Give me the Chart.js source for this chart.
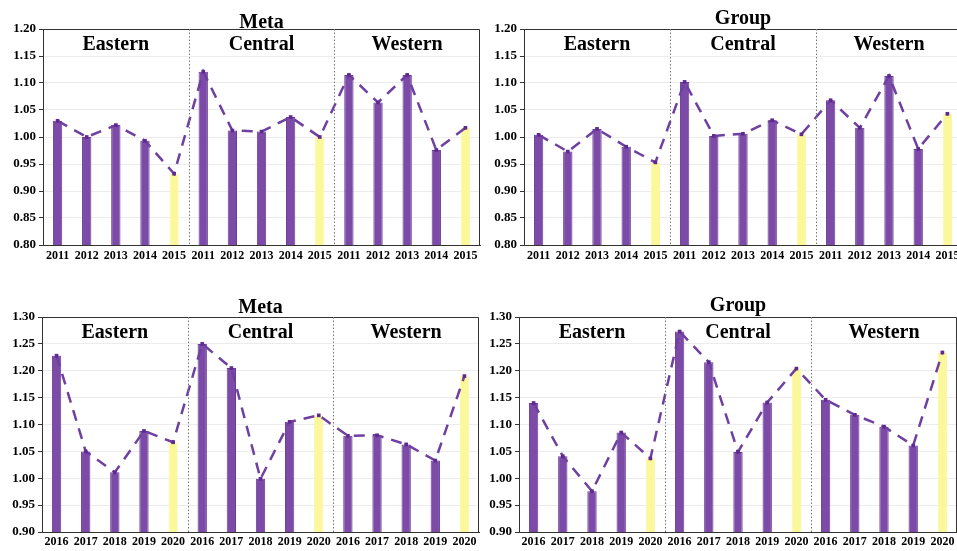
<!DOCTYPE html>
<html>
<head>
<meta charset="utf-8">
<title>Meta and Group efficiency by region</title>
<script src="https://cdn.jsdelivr.net/npm/chart.js@4.4.1/dist/chart.umd.min.js"></script>
<style>
  html, body { margin: 0; padding: 0; background: #ffffff; overflow: hidden; }
  body { width: 957px; height: 551px; position: relative; }
  canvas { position: absolute; }
</style>
</head>
<body>
<canvas id="p1" width="484" height="270" style="left:0px;top:0px"></canvas>
<canvas id="p2" width="487" height="270" style="left:479px;top:0px"></canvas>
<canvas id="p3" width="484" height="261" style="left:0px;top:290px"></canvas>
<canvas id="p4" width="484" height="261" style="left:478px;top:290px"></canvas>
<script>
// Years shown under each regional block
const years1115 = ['2011', '2012', '2013', '2014', '2015'];
const years1620 = ['2016', '2017', '2018', '2019', '2020'];
const regions = ['Eastern', 'Central', 'Western'];

// 2011-2015, Meta frontier
const metaEast1115 = [1.030, 1.000, 1.022, 0.993, 0.932];
const metaCent1115 = [1.121, 1.012, 1.010, 1.037, 1.000];
const metaWest1115 = [1.115, 1.064, 1.115, 0.976, 1.017];
// 2011-2015, Group frontier
const groupEast1115 = [1.004, 0.973, 1.015, 0.982, 0.953];
const groupCent1115 = [1.102, 1.002, 1.006, 1.031, 1.005];
const groupWest1115 = [1.068, 1.017, 1.113, 0.978, 1.043];
// 2016-2020, Meta frontier
const metaEast1620 = [1.228, 1.050, 1.011, 1.088, 1.067];
const metaCent1620 = [1.250, 1.205, 0.999, 1.105, 1.117];
const metaWest1620 = [1.079, 1.080, 1.063, 1.033, 1.190];
// 2016-2020, Group frontier
const groupEast1620 = [1.140, 1.041, 0.976, 1.085, 1.037];
const groupCent1620 = [1.273, 1.216, 1.049, 1.141, 1.204];
const groupWest1620 = [1.146, 1.118, 1.096, 1.061, 1.234];

// Value axis ranges
const yRange1115 = [0.80, 1.20];
const yRange1620 = [0.90, 1.30];

const SERIF = '"Liberation Serif", "Times New Roman", serif';
const PURPLE = '#7b4ba7';
const PURPLE_EDGE = '#6a3a98';
const YELLOW = '#fbf89c';
const LINE = '#6f40a0';

// Draws frame, dotted region separators, region names and the panel title
const decorPlugin = {
  id: 'decor',
  afterDraw(chart, args, opts) {
    const { ctx, chartArea: a } = chart;
    const x = chart.scales.x;
    ctx.save();
    // top and right frame
    ctx.strokeStyle = '#333';
    ctx.lineWidth = 1;
    ctx.beginPath();
    ctx.moveTo(a.left, a.top + 0.5);
    ctx.lineTo(a.right - 0.5, a.top + 0.5);
    ctx.lineTo(a.right - 0.5, a.bottom);
    ctx.stroke();
    // dotted separators between region blocks
    ctx.strokeStyle = '#777';
    ctx.setLineDash([1.5, 2]);
    [4, 9].forEach(i => {
      const sx = Math.round((x.getPixelForValue(i) + x.getPixelForValue(i + 1)) / 2) + 0.5;
      ctx.beginPath();
      ctx.moveTo(sx, a.top);
      ctx.lineTo(sx, a.bottom);
      ctx.stroke();
    });
    ctx.setLineDash([]);
    // region names
    ctx.fillStyle = '#000';
    ctx.textAlign = 'center';
    ctx.textBaseline = 'alphabetic';
    ctx.font = 'bold 20px ' + SERIF;
    regions.forEach((r, k) => {
      ctx.fillText(r, x.getPixelForValue(k * 5 + 2), a.top + 21);
    });
    // panel title
    ctx.font = 'bold 20px ' + SERIF;
    ctx.fillText(opts.title, (a.left + a.right) / 2, a.top - opts.titleGap);
    ctx.restore();
  }
};

function makePanel(id, title, years, east, cent, west, yRange, geo) {
  const labels = [].concat(years, years, years);
  const values = [].concat(east, cent, west);
  const colors = values.map((v, i) => (i % 5 === 4 ? YELLOW : PURPLE));
  const edges = values.map((v, i) => (i % 5 === 4 ? YELLOW : PURPLE_EDGE));
  new Chart(document.getElementById(id), {
    data: {
      labels: labels,
      datasets: [
        {
          type: 'line',
          data: values,
          order: 0,
          borderColor: LINE,
          borderWidth: 2.5,
          borderDash: [11, 8],
          tension: 0,
          pointStyle: 'rect',
          pointRadius: 2.6,
          pointBackgroundColor: '#5d2a90',
          pointBorderColor: '#5d2a90',
          pointBorderWidth: 0
        },
        {
          type: 'bar',
          data: values,
          order: 1,
          backgroundColor: colors,
          borderColor: edges,
          borderWidth: 1,
          barPercentage: 0.32,
          categoryPercentage: 1.0
        }
      ]
    },
    options: {
      responsive: false,
      animation: false,
      devicePixelRatio: 1,
      layout: { padding: { top: geo.top, right: geo.right, left: 0, bottom: 0 } },
      plugins: {
        legend: { display: false },
        tooltip: { enabled: false },
        decor: { title: title, titleGap: geo.titleGap }
      },
      scales: {
        x: {
          offset: true,
          grid: { display: false, drawTicks: false },
          border: { color: '#333', width: 1 },
          ticks: {
            autoSkip: false,
            maxRotation: 0,
            padding: geo.xPad,
            color: '#000',
            font: { family: SERIF, size: 12, weight: 'bold' }
          },
          afterFit(s) { s.height = geo.xHeight; }
        },
        y: {
          min: yRange[0],
          max: yRange[1],
          grid: {
            color: '#ececec',
            lineWidth: 1,
            drawTicks: true,
            tickLength: 4,
            tickColor: '#333'
          },
          border: { color: '#333', width: 1 },
          ticks: {
            stepSize: 0.025,
            padding: 3,
            color: '#000',
            font: { family: SERIF, size: 13, weight: 'bold' },
            callback(v) {
              return Math.round(v * 1000) % 50 === 0 ? v.toFixed(2) : '';
            }
          },
          afterFit(s) { s.width = geo.yWidth; }
        }
      }
    },
    plugins: [decorPlugin]
  });
}

makePanel('p1', 'Meta', years1115, metaEast1115, metaCent1115, metaWest1115, yRange1115,
  { top: 29, right: 3, yWidth: 43, xHeight: 25, xPad: 4, titleGap: 1 });
makePanel('p2', 'Group', years1115, groupEast1115, groupCent1115, groupWest1115, yRange1115,
  { top: 29, right: 2, yWidth: 45, xHeight: 25, xPad: 4, titleGap: 5 });
makePanel('p3', 'Meta', years1620, metaEast1620, metaCent1620, metaWest1620, yRange1620,
  { top: 27, right: 5, yWidth: 42, xHeight: 19, xPad: 3, titleGap: 4 });
makePanel('p4', 'Group', years1620, groupEast1620, groupCent1620, groupWest1620, yRange1620,
  { top: 27, right: 5, yWidth: 41, xHeight: 19, xPad: 3, titleGap: 6 });
</script>
</body>
</html>
